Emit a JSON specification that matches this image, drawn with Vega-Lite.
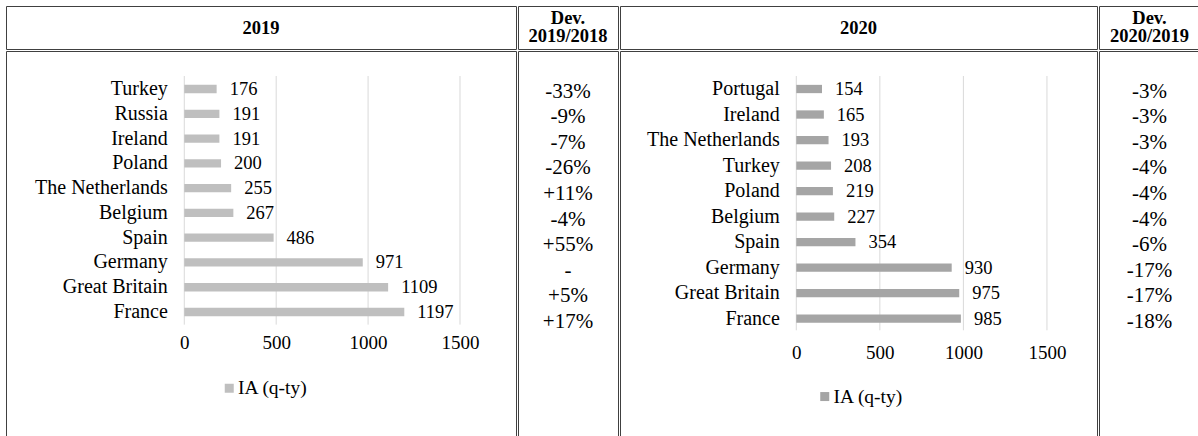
{
  "$schema": "https://vega.github.io/schema/vega-lite/v6.json",
  "padding": {"left": 5, "top": 5, "right": 0, "bottom": -5},
  "config": {
    "view": {"stroke": "#404040", "strokeWidth": 1},
    "font": "Liberation Serif"
  },
  "datasets": {
    "d2019": [
      {"country": "Turkey", "ia": 176, "dev": "-33%"},
      {"country": "Russia", "ia": 191, "dev": "-9%"},
      {"country": "Ireland", "ia": 191, "dev": "-7%"},
      {"country": "Poland", "ia": 200, "dev": "-26%"},
      {"country": "The Netherlands", "ia": 255, "dev": "+11%"},
      {"country": "Belgium", "ia": 267, "dev": "-4%"},
      {"country": "Spain", "ia": 486, "dev": "+55%"},
      {"country": "Germany", "ia": 971, "dev": "-"},
      {"country": "Great Britain", "ia": 1109, "dev": "+5%"},
      {"country": "France", "ia": 1197, "dev": "+17%"}
    ],
    "d2020": [
      {"country": "Portugal", "ia": 154, "dev": "-3%"},
      {"country": "Ireland", "ia": 165, "dev": "-3%"},
      {"country": "The Netherlands", "ia": 193, "dev": "-3%"},
      {"country": "Turkey", "ia": 208, "dev": "-4%"},
      {"country": "Poland", "ia": 219, "dev": "-4%"},
      {"country": "Belgium", "ia": 227, "dev": "-4%"},
      {"country": "Spain", "ia": 354, "dev": "-6%"},
      {"country": "Germany", "ia": 930, "dev": "-17%"},
      {"country": "Great Britain", "ia": 975, "dev": "-17%"},
      {"country": "France", "ia": 985, "dev": "-18%"}
    ],
    "g2019": [
      {"v": 0, "top": "Turkey", "bottom": "France"},
      {"v": 500, "top": "Turkey", "bottom": "France"},
      {"v": 1000, "top": "Turkey", "bottom": "France"},
      {"v": 1500, "top": "Turkey", "bottom": "France"}
    ],
    "g2020": [
      {"v": 0, "top": "Portugal", "bottom": "France"},
      {"v": 500, "top": "Portugal", "bottom": "France"},
      {"v": 1000, "top": "Portugal", "bottom": "France"},
      {"v": 1500, "top": "Portugal", "bottom": "France"}
    ]
  },
  "spacing": 0,
  "vconcat": [
    {
      "spacing": 0,
      "hconcat": [
        {"width": 510, "height": 43, "view": {"stroke": "#404040"}, "data": {"values": [{"t": "2019"}]},
         "mark": {"type": "text", "font": "Liberation Serif", "fontWeight": "bold", "fontSize": 18.5, "color": "#000000"},
         "encoding": {"text": {"field": "t"}}},
        {"width": 100, "height": 43, "view": {"stroke": "#404040"}, "data": {"values": [{"t": "Dev.\n2019/2018"}]},
         "mark": {"type": "text", "font": "Liberation Serif", "fontWeight": "bold", "fontSize": 18.5, "lineBreak": "\n", "lineHeight": 18, "dy": -10, "color": "#000000"},
         "encoding": {"text": {"field": "t"}}},
        {"width": 477, "height": 43, "view": {"stroke": "#404040"}, "data": {"values": [{"t": "2020"}]},
         "mark": {"type": "text", "font": "Liberation Serif", "fontWeight": "bold", "fontSize": 18.5, "color": "#000000"},
         "encoding": {"text": {"field": "t"}}},
        {"width": 101, "height": 43, "view": {"stroke": "#404040"}, "data": {"values": [{"t": "Dev.\n2020/2019"}]},
         "mark": {"type": "text", "font": "Liberation Serif", "fontWeight": "bold", "fontSize": 18.5, "lineBreak": "\n", "lineHeight": 18, "dy": -10, "color": "#000000"},
         "encoding": {"text": {"field": "t"}}}
      ]
    },
    {
      "spacing": 0,
      "resolve": {"scale": {"x": "independent", "y": "independent", "color": "independent"}, "legend": {"color": "independent"}},
      "hconcat": [
        {
          "width": 510, "height": 392,
          "layer": [
            {
              "data": {"name": "g2019"},
              "mark": {"type": "rule", "color": "#d9d9d9", "strokeWidth": 1},
              "encoding": {
                "x": {"field": "v", "type": "quantitative", "scale": {"domain": [-970, 1804.7], "nice": false, "zero": false},
                      "axis": {"orient": "bottom", "offset": -100.5, "values": [0, 500, 1000, 1500], "format": "d", "domain": false, "ticks": false, "tickSize": 0, "grid": false, "labelPadding": 0, "labelBaseline": "middle", "labelFlush": false, "labelOverlap": false, "labelFont": "Liberation Serif", "labelFontSize": 19, "labelColor": "#000000", "title": null}},
                "y": {"field": "top", "type": "nominal", "bandPosition": -1.066, "scale": {"domain": ["Turkey", "Russia", "Ireland", "Poland", "The Netherlands", "Belgium", "Spain", "Germany", "Great Britain", "France"], "range": [33.85, 265.17], "paddingInner": 0.665, "paddingOuter": 0, "round": false},
                      "axis": {"orient": "left", "offset": -178.3, "domain": false, "ticks": false, "tickSize": 0, "grid": false, "labelPadding": 17, "labelLimit": 300, "labelFont": "Liberation Serif", "labelFontSize": 20, "labelColor": "#000000", "title": null}},
                "y2": {"field": "bottom", "bandPosition": 2.02}
              }
            },
            {
              "data": {"name": "d2019"},
              "mark": {"type": "bar"},
              "encoding": {
                "x": {"field": "ia", "type": "quantitative", "scale": {"domain": [-970, 1804.7], "nice": false, "zero": false},
                      "axis": {"orient": "bottom", "offset": -100.5, "values": [0, 500, 1000, 1500], "format": "d", "domain": false, "ticks": false, "tickSize": 0, "grid": false, "labelPadding": 0, "labelBaseline": "middle", "labelFlush": false, "labelOverlap": false, "labelFont": "Liberation Serif", "labelFontSize": 19, "labelColor": "#000000", "title": null}},
                "y": {"field": "country", "type": "nominal", "scale": {"domain": ["Turkey", "Russia", "Ireland", "Poland", "The Netherlands", "Belgium", "Spain", "Germany", "Great Britain", "France"], "range": [33.85, 265.17], "paddingInner": 0.665, "paddingOuter": 0, "round": false},
                      "axis": {"orient": "left", "offset": -178.3, "domain": false, "ticks": false, "tickSize": 0, "grid": false, "labelPadding": 17, "labelLimit": 300, "labelFont": "Liberation Serif", "labelFontSize": 20, "labelColor": "#000000", "title": null}},
                "color": {"datum": "IA (q-ty)", "type": "nominal", "scale": {"range": ["#bfbfbf"]},
                          "legend": {"orient": "none", "legendX": 213.5, "legendY": 327.5, "title": null, "symbolType": "square", "symbolSize": 81, "symbolStrokeWidth": 0, "labelOffset": -1, "padding": 0, "labelFont": "Liberation Serif", "labelFontSize": 19.5, "labelColor": "#000000"}}
              }
            },
            {
              "data": {"name": "d2019"},
              "mark": {"type": "text", "align": "left", "baseline": "middle", "dx": 13, "font": "Liberation Serif", "fontSize": 18.5, "color": "#000000"},
              "encoding": {
                "x": {"field": "ia", "type": "quantitative", "scale": {"domain": [-970, 1804.7], "nice": false, "zero": false},
                      "axis": {"orient": "bottom", "offset": -100.5, "values": [0, 500, 1000, 1500], "format": "d", "domain": false, "ticks": false, "tickSize": 0, "grid": false, "labelPadding": 0, "labelBaseline": "middle", "labelFlush": false, "labelOverlap": false, "labelFont": "Liberation Serif", "labelFontSize": 19, "labelColor": "#000000", "title": null}},
                "y": {"field": "country", "type": "nominal", "scale": {"domain": ["Turkey", "Russia", "Ireland", "Poland", "The Netherlands", "Belgium", "Spain", "Germany", "Great Britain", "France"], "range": [33.85, 265.17], "paddingInner": 0.665, "paddingOuter": 0, "round": false},
                      "axis": {"orient": "left", "offset": -178.3, "domain": false, "ticks": false, "tickSize": 0, "grid": false, "labelPadding": 17, "labelLimit": 300, "labelFont": "Liberation Serif", "labelFontSize": 20, "labelColor": "#000000", "title": null}},
                "text": {"field": "ia", "type": "quantitative", "format": "d"}
              }
            }
          ]
        },
        {
          "width": 100, "height": 392,
          "data": {"name": "d2019"},
          "mark": {"type": "text", "font": "Liberation Serif", "fontSize": 21, "color": "#000000"},
          "encoding": {
            "y": {"field": "country", "type": "nominal", "scale": {"domain": ["Turkey", "Russia", "Ireland", "Poland", "The Netherlands", "Belgium", "Spain", "Germany", "Great Britain", "France"], "range": [27.7, 283.7], "paddingInner": 0, "paddingOuter": 0, "round": false}, "axis": null},
            "text": {"field": "dev"}
          }
        },
        {
          "width": 477, "height": 392,
          "layer": [
            {
              "data": {"name": "g2020"},
              "mark": {"type": "rule", "color": "#d9d9d9", "strokeWidth": 1},
              "encoding": {
                "x": {"field": "v", "type": "quantitative", "scale": {"domain": [-1055, 1799.5], "nice": false, "zero": false},
                      "axis": {"orient": "bottom", "offset": -91, "values": [0, 500, 1000, 1500], "format": "d", "domain": false, "ticks": false, "tickSize": 0, "grid": false, "labelPadding": 0, "labelBaseline": "middle", "labelFlush": false, "labelOverlap": false, "labelFont": "Liberation Serif", "labelFontSize": 19, "labelColor": "#000000", "title": null}},
                "y": {"field": "top", "type": "nominal", "bandPosition": -1.066, "scale": {"domain": ["Portugal", "Ireland", "The Netherlands", "Turkey", "Poland", "Belgium", "Spain", "Germany", "Great Britain", "France"], "range": [33.85, 271.82], "paddingInner": 0.675, "paddingOuter": 0, "round": false},
                      "axis": {"orient": "left", "offset": -176.3, "domain": false, "ticks": false, "tickSize": 0, "grid": false, "labelPadding": 17, "labelLimit": 300, "labelFont": "Liberation Serif", "labelFontSize": 20, "labelColor": "#000000", "title": null}},
                "y2": {"field": "bottom", "bandPosition": 1.9}
              }
            },
            {
              "data": {"name": "d2020"},
              "mark": {"type": "bar"},
              "encoding": {
                "x": {"field": "ia", "type": "quantitative", "scale": {"domain": [-1055, 1799.5], "nice": false, "zero": false},
                      "axis": {"orient": "bottom", "offset": -91, "values": [0, 500, 1000, 1500], "format": "d", "domain": false, "ticks": false, "tickSize": 0, "grid": false, "labelPadding": 0, "labelBaseline": "middle", "labelFlush": false, "labelOverlap": false, "labelFont": "Liberation Serif", "labelFontSize": 19, "labelColor": "#000000", "title": null}},
                "y": {"field": "country", "type": "nominal", "scale": {"domain": ["Portugal", "Ireland", "The Netherlands", "Turkey", "Poland", "Belgium", "Spain", "Germany", "Great Britain", "France"], "range": [33.85, 271.82], "paddingInner": 0.675, "paddingOuter": 0, "round": false},
                      "axis": {"orient": "left", "offset": -176.3, "domain": false, "ticks": false, "tickSize": 0, "grid": false, "labelPadding": 17, "labelLimit": 300, "labelFont": "Liberation Serif", "labelFontSize": 20, "labelColor": "#000000", "title": null}},
                "color": {"datum": "IA (q-ty)", "type": "nominal", "scale": {"range": ["#a5a5a5"]},
                          "legend": {"orient": "none", "legendX": 195, "legendY": 335.8, "title": null, "symbolType": "square", "symbolSize": 81, "symbolStrokeWidth": 0, "labelOffset": -1, "padding": 0, "labelFont": "Liberation Serif", "labelFontSize": 19.5, "labelColor": "#000000"}}
              }
            },
            {
              "data": {"name": "d2020"},
              "mark": {"type": "text", "align": "left", "baseline": "middle", "dx": 13, "font": "Liberation Serif", "fontSize": 18.5, "color": "#000000"},
              "encoding": {
                "x": {"field": "ia", "type": "quantitative", "scale": {"domain": [-1055, 1799.5], "nice": false, "zero": false},
                      "axis": {"orient": "bottom", "offset": -91, "values": [0, 500, 1000, 1500], "format": "d", "domain": false, "ticks": false, "tickSize": 0, "grid": false, "labelPadding": 0, "labelBaseline": "middle", "labelFlush": false, "labelOverlap": false, "labelFont": "Liberation Serif", "labelFontSize": 19, "labelColor": "#000000", "title": null}},
                "y": {"field": "country", "type": "nominal", "scale": {"domain": ["Portugal", "Ireland", "The Netherlands", "Turkey", "Poland", "Belgium", "Spain", "Germany", "Great Britain", "France"], "range": [33.85, 271.82], "paddingInner": 0.675, "paddingOuter": 0, "round": false},
                      "axis": {"orient": "left", "offset": -176.3, "domain": false, "ticks": false, "tickSize": 0, "grid": false, "labelPadding": 17, "labelLimit": 300, "labelFont": "Liberation Serif", "labelFontSize": 20, "labelColor": "#000000", "title": null}},
                "text": {"field": "ia", "type": "quantitative", "format": "d"}
              }
            }
          ]
        },
        {
          "width": 101, "height": 392,
          "data": {"name": "d2020"},
          "mark": {"type": "text", "font": "Liberation Serif", "fontSize": 21, "color": "#000000"},
          "encoding": {
            "y": {"field": "country", "type": "nominal", "scale": {"domain": ["Portugal", "Ireland", "The Netherlands", "Turkey", "Poland", "Belgium", "Spain", "Germany", "Great Britain", "France"], "range": [27.7, 283.7], "paddingInner": 0, "paddingOuter": 0, "round": false}, "axis": null},
            "text": {"field": "dev"}
          }
        }
      ]
    }
  ]
}
